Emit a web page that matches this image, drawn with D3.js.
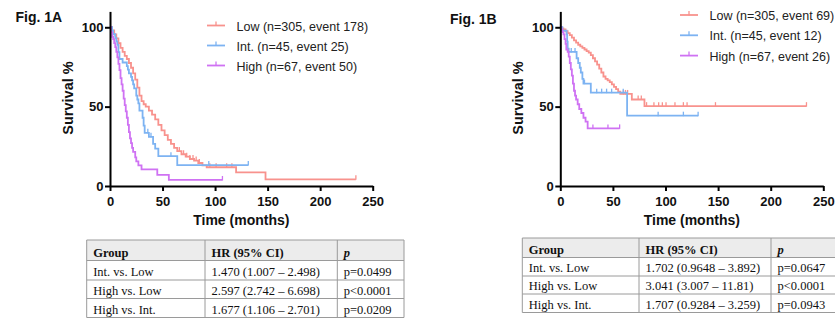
<!DOCTYPE html>
<html>
<head>
<meta charset="utf-8">
<script src="https://cdn.jsdelivr.net/npm/d3@7"></script>
<style>
  html, body { margin: 0; padding: 0; background: #fff; }
  svg { display: block; }
</style>
</head>
<body>
<svg id="chart" width="835" height="320"></svg>
<script>
// ---------------- DATA ----------------
const seriesNames = ["Low", "Int.", "High"];
const legendA = ["Low (n=305, event 178)", "Int. (n=45, event 25)", "High (n=67, event 50)"];
const legendB = ["Low (n=305, event 69)", "Int. (n=45, event 12)", "High (n=67, event 26)"];
const xTicks = [0, 50, 100, 150, 200, 250];
const yTicks = [0, 50, 100];

// Fig. 1A  (time in months, survival %)
const lowA_t  = [0, 2, 4, 6, 8, 10, 12, 14, 16, 18, 20, 22, 24, 26, 28, 30, 32, 34, 37, 40, 43, 46, 49, 52, 55, 58, 61, 64, 68, 72, 76, 80, 84, 88, 92, 120, 148];
const lowA_s  = [100, 98, 95.5, 93, 90, 87, 84.5, 82, 80, 77.5, 74.5, 71, 67, 62, 57, 53.5, 51.5, 50, 47.5, 45, 42, 38.5, 35, 32, 29, 26.5, 24, 22, 20, 18.5, 17, 16, 14.5, 13, 11.8, 8.6, 4.2];
const lowA_c  = [66, 70, 73, 76, 79, 82, 85, 95, 101, 111, 116, 234];
const intA_t  = [0, 2, 3, 5, 6, 7, 8, 9, 12, 16, 17, 18, 20, 21, 22, 23, 25, 26, 27, 28, 31, 32, 33, 37, 41, 43, 46, 64];
const intA_s  = [100, 97.8, 95.6, 93.3, 91.1, 88.9, 84.4, 80, 77.8, 75.5, 73.3, 71, 68.8, 66.5, 64, 61.5, 57, 54.5, 52, 47.5, 43, 38, 33.5, 31, 26.5, 23.5, 18.8, 13.2];
const intA_c  = [36, 39, 58, 94, 131.6];
const highA_t = [0, 1, 2, 3, 4, 5, 6, 7, 8, 9, 10, 11, 12, 13, 14, 15, 16, 17, 18, 19, 20, 21, 22, 24, 25, 27, 30, 45, 56];
const highA_s = [100, 97, 94, 92.5, 90, 87.5, 84.5, 81, 77, 73, 68, 64, 60, 55, 51, 47, 43, 38.5, 34, 30, 27, 24, 21.5, 18, 15.5, 13, 10.5, 7, 3.8];
const highA_c = [107];

// Fig. 1B
const lowB_t  = [0, 1, 3, 5, 7, 9, 11, 13, 15, 17, 19, 21, 23, 25, 27, 29, 31, 33, 35, 37, 39, 41, 43, 45, 47, 49, 51, 53, 55, 57, 68, 80];
const lowB_s  = [100, 99.3, 98.7, 97.5, 96.3, 95, 93.5, 91.8, 90.3, 89, 88, 87, 86, 85, 84, 82.5, 80.5, 78.5, 76.5, 74, 71.5, 69, 67.5, 66.5, 65.5, 64, 62.5, 61, 59.5, 58, 54.5, 50.3];
const lowB_c  = [60, 62, 64, 74, 77, 82, 89, 93.5, 97, 100.5, 109, 117, 120.5, 147.5, 234];
const intB_t  = [0, 2, 6, 6.5, 7, 8, 15.5, 17, 18.5, 19.5, 21, 22, 29, 63.5];
const intB_s  = [100, 97.8, 95.5, 91, 86.5, 84.5, 80.5, 77.5, 74.5, 71.5, 67.5, 64.5, 58.8, 44.3];
const intB_c  = [10.4, 14, 23, 34.6, 39.3, 44, 48.8, 59.8, 93, 117, 131];
const highB_t = [0, 1, 2, 3, 4, 5, 5.7, 7, 8, 9, 10, 11, 12, 13, 14, 15, 16.5, 18, 20, 22, 24, 26];
const highB_s = [100, 98.5, 97, 95.5, 92.5, 89.5, 86, 84.5, 81.5, 77.5, 73.5, 69.5, 64.5, 60, 57, 54.5, 51.5, 48.5, 46, 43, 40.5, 36.3];
const highB_c = [31, 45.3, 56.4];

// Tables
const tableHeader = ["Group", "HR (95% CI)", "p"];
const tableGroups = ["Int. vs. Low", "High vs. Low", "High vs. Int."];
const tableA_hr = ["1.470 (1.007 \u2013 2.498)", "2.597 (2.742 \u2013 6.698)", "1.677 (1.106 \u2013 2.701)"];
const tableA_p  = ["p=0.0499", "p<0.0001", "p=0.0209"];
const tableB_hr = ["1.702 (0.9648 \u2013 3.892)", "3.041 (3.007 \u2013 11.81)", "1.707 (0.9284 \u2013 3.259)"];
const tableB_p  = ["p=0.0647", "p<0.0001", "p=0.0943"];

// ---------------- STYLE ----------------
const colors = ["#f8928d", "#7db3f2", "#cf72f3"];
const sans = "'Liberation Sans', Arial, Helvetica, sans-serif";
const serif = "'Liberation Serif', 'Times New Roman', serif";

const svg = d3.select("#chart");
svg.append("rect").attr("width", 835).attr("height", 320).attr("fill", "#fff");

function survAt(ts, ss, t) {
  let v = ss[0];
  for (let i = 0; i < ts.length; i++) if (ts[i] <= t) v = ss[i];
  return v;
}

function drawPanel(cfg) {
  const g = svg.append("g");
  const x = d3.scaleLinear().domain([0, 250]).range([cfg.x0, cfg.x1]);
  const y = d3.scaleLinear().domain([0, 110]).range([186, 11.4]);

  // curves
  cfg.series.forEach((s, i) => {
    const end = d3.max(s.c);
    const pts = s.t.map((t, k) => [t, s.s[k]]);
    pts.push([end, s.s[s.s.length - 1]]);
    const line = d3.line().x(d => x(d[0])).y(d => y(d[1])).curve(d3.curveStepAfter);
    g.append("path").datum(pts).attr("d", line)
      .attr("fill", "none").attr("stroke", colors[i]).attr("stroke-width", 1.8);
    g.selectAll(null).data(s.c).enter().append("line")
      .attr("x1", d => x(d)).attr("x2", d => x(d))
      .attr("y1", d => y(survAt(s.t, s.s, d)) - 4)
      .attr("y2", d => y(survAt(s.t, s.s, d)) + 0.5)
      .attr("stroke", colors[i]).attr("stroke-width", 1.3);
  });

  // axes
  const ax = g.append("g").attr("transform", "translate(0,186)")
    .call(d3.axisBottom(x).tickValues(xTicks).tickSize(5).tickPadding(6).tickSizeOuter(0));
  const ay = g.append("g").attr("transform", `translate(${cfg.x0},0)`)
    .call(d3.axisLeft(y).tickValues(yTicks).tickSize(5).tickPadding(1.5).tickSizeOuter(0));
  [ax, ay].forEach(a => {
    a.select(".domain").attr("stroke", "#000").attr("stroke-width", 2);
    a.selectAll(".tick line").attr("stroke", "#000").attr("stroke-width", 2);
    a.selectAll(".tick text").attr("font-family", sans).attr("font-size", 13)
      .attr("font-weight", "bold").attr("fill", "#111");
  });

  // axis titles
  g.append("text").attr("transform", `translate(${cfg.yLabX},98) rotate(-90)`)
    .attr("text-anchor", "middle").attr("dominant-baseline", "central")
    .attr("font-family", sans).attr("font-size", 14.5).attr("font-weight", "bold")
    .attr("fill", "#111").text("Survival %");
  g.append("text").attr("x", (cfg.x0 + cfg.x1) / 2).attr("y", 225)
    .attr("text-anchor", "middle").attr("font-family", sans).attr("font-size", 14)
    .attr("font-weight", "bold").attr("fill", "#111").text("Time (months)");

  // figure title
  g.append("text").attr("x", cfg.titleX).attr("y", cfg.titleY)
    .attr("font-family", sans).attr("font-size", 14).attr("font-weight", "bold")
    .attr("fill", "#111").text(cfg.title);

  // legend
  cfg.legend.forEach((lab, i) => {
    const ly = cfg.legY[i];
    g.append("line").attr("x1", cfg.legX).attr("x2", cfg.legX + 18)
      .attr("y1", ly).attr("y2", ly).attr("stroke", colors[i]).attr("stroke-width", 1.8);
    g.append("line").attr("x1", cfg.legX + 9).attr("x2", cfg.legX + 9)
      .attr("y1", ly - 4).attr("y2", ly + 0.5).attr("stroke", colors[i]).attr("stroke-width", 1.3);
    g.append("text").attr("x", cfg.legX + 29.5).attr("y", ly + 5)
      .attr("font-family", sans).attr("font-size", 12.5).attr("fill", "#222").text(lab);
  });
}

drawPanel({
  x0: 110, x1: 372.7, yLabX: 68, title: "Fig. 1A", titleX: 15.5, titleY: 21.7,
  legX: 207, legY: [25.5, 45.5, 65.5], legend: legendA,
  series: [
    { t: lowA_t, s: lowA_s, c: lowA_c },
    { t: intA_t, s: intA_s, c: intA_c },
    { t: highA_t, s: highA_s, c: highA_c }
  ]
});
drawPanel({
  x0: 560.3, x1: 823.3, yLabX: 518.3, title: "Fig. 1B", titleX: 450, titleY: 24,
  legX: 680, legY: [15, 35.3, 55.6], legend: legendB,
  series: [
    { t: lowB_t, s: lowB_s, c: lowB_c },
    { t: intB_t, s: intB_s, c: intB_c },
    { t: highB_t, s: highB_s, c: highB_c }
  ]
});

function drawTable(cols, rows, hr, pv) {
  const g = svg.append("g");
  g.append("rect").attr("x", cols[0]).attr("y", rows[0])
    .attr("width", cols[3] - cols[0]).attr("height", rows[1] - rows[0]).attr("fill", "#ececec");
  rows.forEach(r => g.append("line").attr("x1", cols[0]).attr("x2", cols[3])
    .attr("y1", r).attr("y2", r).attr("stroke", "#9a9a9a").attr("stroke-width", 1));
  cols.forEach(c => g.append("line").attr("x1", c).attr("x2", c)
    .attr("y1", rows[0]).attr("y2", rows[rows.length - 1]).attr("stroke", "#9a9a9a").attr("stroke-width", 1));
  const cells = [tableHeader].concat(tableGroups.map((gname, i) => [gname, hr[i], pv[i]]));
  cells.forEach((row, ri) => {
    row.forEach((txt, ci) => {
      const t = g.append("text").attr("x", cols[ci] + 6.5).attr("y", rows[ri + 1] - 4)
        .attr("font-family", serif).attr("font-size", 12.5).attr("fill", "#111").text(txt);
      if (ri === 0) {
        t.attr("font-weight", "bold");
        if (ci === 2) t.attr("font-style", "italic");
      }
    });
  });
}

drawTable([86.7, 205, 337.3, 404], [240, 260.5, 280, 298.5, 317.5], tableA_hr, tableA_p);
drawTable([522.3, 639, 771, 850], [238, 257.5, 276, 294, 312.5], tableB_hr, tableB_p);
</script>
</body>
</html>
